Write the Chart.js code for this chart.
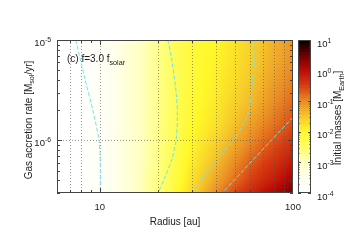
<!DOCTYPE html>
<html><head><meta charset="utf-8">
<script src="https://cdn.jsdelivr.net/npm/chart.js@4/dist/chart.umd.min.js"></script>
<style>html,body{margin:0;padding:0;background:#fff;overflow:hidden}</style>
</head><body>
<canvas id="c" width="350" height="245"></canvas>
<script>
// ---- data ----
const radii = [6, 7, 8, 10, 12, 15, 20, 25, 30, 40, 50, 60, 70, 80, 100];          // au
const rates = [3e-7, 4e-7, 6e-7, 1e-6, 1.5e-6, 2.5e-6, 4e-6, 6e-6, 1e-5];           // Msol/yr
// log10 initial mass [M_Earth]; one row per rate (low -> high), one column per radius
const logMass = [
  [-4, -4, -3.95, -3.75, -3.45, -3.1, -2.6,  -2.1,  -1.65, -1.0,  -0.55, -0.28, -0.05,  0.12,  0.45],
  [-4, -4, -3.95, -3.75, -3.45, -3.1, -2.62, -2.15, -1.75, -1.2,  -0.8,  -0.5,  -0.3,  -0.15,  0.2 ],
  [-4, -4, -3.95, -3.75, -3.45, -3.1, -2.65, -2.22, -1.88, -1.4,  -1.0,  -0.72, -0.52, -0.38, -0.1 ],
  [-4, -4, -3.95, -3.75, -3.45, -3.1, -2.68, -2.28, -1.98, -1.62, -1.28, -1.0,  -0.8,  -0.65, -0.4 ],
  [-4, -4, -3.95, -3.75, -3.45, -3.1, -2.7,  -2.32, -2.05, -1.78, -1.45, -1.2,  -1.0,  -0.85, -0.6 ],
  [-4, -4, -3.95, -3.75, -3.45, -3.1, -2.7,  -2.34, -2.1,  -1.85, -1.6,  -1.4,  -1.2,  -1.02, -0.78],
  [-4, -4, -3.95, -3.75, -3.45, -3.1, -2.7,  -2.35, -2.12, -1.9,  -1.7,  -1.5,  -1.32, -1.16, -0.92],
  [-4, -4, -3.95, -3.75, -3.45, -3.1, -2.7,  -2.35, -2.13, -1.95, -1.75, -1.56, -1.4,  -1.26, -1.02],
  [-4, -4, -3.95, -3.75, -3.45, -3.1, -2.7,  -2.35, -2.15, -2.0,  -1.8,  -1.62, -1.46, -1.32, -1.1 ]
];
// dashed boundary curves [radius, rate]
const curveA = [[7.5,1e-5],[8.4,4e-6],[9.2,2e-6],[9.9,1e-6],[10.05,6e-7],[10.05,3e-7]];
const curveB = [[22.5,1e-5],[23.6,6.3e-6],[24.9,2.85e-6],[25.2,1.7e-6],[24.8,1e-6],[23.6,6.5e-7],[21.7,4.3e-7],[20.0,3e-7]];
const curveC = [[63.6,1e-5],[63.6,7.1e-6],[62.0,4.2e-6],[59.2,2.0e-6],[55.1,1.44e-6],[48.9,1e-6],[38.5,5.8e-7],[30.3,3.05e-7]];
const curveD = [[100,1.7e-6],[77,1e-6],[43.4,3.05e-7]];
const xTickLabels = [10, 100];
const yTickExps = [-6, -5];
const cbTickExps = [-4, -3, -2, -1, 0, 1];
const xGridVals = [7, 8, 10, 20, 30, 40, 50, 60, 70, 80, 90];
const yGridVals = [1e-6];

// ---- styles ----
const FONT = '"Liberation Sans", Arial, sans-serif';
const cmap = [
  [-4.0, 255,255,255],[-3.5, 255,255,238],[-3.0, 255,255,195],[-2.6, 255,255,120],
  [-2.0, 255,248,40],[-1.5, 246,200,42],[-1.0, 233,140,36],[-0.5, 216,62,16],
  [0.0, 188,12,6],[0.5, 110,0,0],[1.0, 0,0,0]
];
function colorFor(L){
  if (L<=cmap[0][0]) return cmap[0].slice(1);
  for (let k=0;k<cmap.length-1;k++){
    const a=cmap[k], b=cmap[k+1];
    if (L<=b[0]){ const t=(L-a[0])/(b[0]-a[0]); return [a[1]+t*(b[1]-a[1]),a[2]+t*(b[2]-a[2]),a[3]+t*(b[3]-a[3])]; }
  }
  return cmap[cmap.length-1].slice(1);
}
function locate(arr, v){
  if (v<=arr[0]) return [0,0];
  const n=arr.length;
  if (v>=arr[n-1]) return [n-2,1];
  for (let k=0;k<n-1;k++) if (v<=arr[k+1]) return [k,(v-arr[k])/(arr[k+1]-arr[k])];
}
const lr = radii.map(Math.log10), lm = rates.map(Math.log10);
function fieldAt(r, m){
  const [i,tx]=locate(lr,Math.log10(r)), [j,ty]=locate(lm,Math.log10(m));
  const a=logMass[j][i], b=logMass[j][i+1], c=logMass[j+1][i], d=logMass[j+1][i+1];
  return (a*(1-tx)+b*tx)*(1-ty)+(c*(1-tx)+d*tx)*ty;
}
function drawRich(ctx, parts, x, y, align, size){
  let w=0; const sz=[];
  parts.forEach(p=>{ const s = p.s? size*0.72: size; ctx.font=s+'px '+FONT; const m=ctx.measureText(p.t).width; sz.push([s,m]); w+=m; });
  let cx = align==='center'? x-w/2 : align==='right'? x-w : x;
  ctx.textBaseline='alphabetic'; ctx.textAlign='left';
  parts.forEach((p,k)=>{ ctx.font=sz[k][0]+'px '+FONT; const dy = p.s===1? -size*0.42 : p.s===-1? size*0.28 : 0; ctx.fillText(p.t,cx,y+dy); cx+=sz[k][1]; });
}

const heatPlugin = {
  id:'heat',
  beforeDatasetsDraw(chart){
    const ctx=chart.ctx, ca=chart.chartArea, xs=chart.scales.x, ys=chart.scales.y;
    const w=Math.round(ca.right-ca.left), h=Math.round(ca.bottom-ca.top);
    const off=document.createElement('canvas'); off.width=w; off.height=h;
    const octx=off.getContext('2d'); const img=octx.createImageData(w,h);
    for (let j=0;j<h;j++){
      const m=ys.getValueForPixel(ca.top+j+0.5);
      for (let i=0;i<w;i++){
        const r=xs.getValueForPixel(ca.left+i+0.5);
        const c=colorFor(fieldAt(r,m)); const o=(j*w+i)*4;
        img.data[o]=c[0]; img.data[o+1]=c[1]; img.data[o+2]=c[2]; img.data[o+3]=255;
      }
    }
    octx.putImageData(img,0,0);
    ctx.drawImage(off, ca.left, ca.top);
    ctx.save();
    ctx.strokeStyle='rgba(85,85,85,0.6)'; ctx.lineWidth=1; ctx.setLineDash([1,2]);
    xGridVals.forEach(v=>{ const x=Math.round(xs.getPixelForValue(v))+0.5; ctx.beginPath(); ctx.moveTo(x,ca.top); ctx.lineTo(x,ca.bottom); ctx.stroke(); });
    yGridVals.forEach(v=>{ const y=Math.round(ys.getPixelForValue(v))+0.5; ctx.beginPath(); ctx.moveTo(ca.left,y); ctx.lineTo(ca.right,y); ctx.stroke(); });
    ctx.restore();
  },
  afterDraw(chart){
    const ctx=chart.ctx, ca=chart.chartArea, xs=chart.scales.x, ys=chart.scales.y, cb=chart.scales.cb;
    ctx.save();
    ctx.fillStyle='#1a1a1a'; ctx.strokeStyle='#444'; ctx.lineWidth=1; ctx.setLineDash([]);
    ctx.strokeRect(Math.round(ca.left)+0.5, Math.round(ca.top)+0.5, Math.round(ca.right-ca.left)-1, Math.round(ca.bottom-ca.top)-1);
    // x ticks
    [1,10].forEach(dec=>{ for (let k=1;k<=9;k++){ const val=k*dec; if (val<6 || val>100) continue;
      const x=Math.round(xs.getPixelForValue(val))+0.5, L=(k===1)?5:3;
      ctx.beginPath(); ctx.moveTo(x,ca.bottom); ctx.lineTo(x,ca.bottom-L); ctx.moveTo(x,ca.top); ctx.lineTo(x,ca.top+L); ctx.stroke(); } });
    // y ticks
    [-7,-6,-5].forEach(e=>{ for (let k=1;k<=9;k++){ const val=k*Math.pow(10,e); if (val<3e-7*0.999 || val>1e-5*1.001) continue;
      const y=Math.round(ys.getPixelForValue(val))+0.5, L=(k===1)?5:3;
      ctx.beginPath(); ctx.moveTo(ca.left,y); ctx.lineTo(ca.left+L,y); ctx.moveTo(ca.right,y); ctx.lineTo(ca.right-L,y); ctx.stroke(); } });
    // x tick labels
    ctx.font='9.5px '+FONT; ctx.textAlign='center'; ctx.textBaseline='middle';
    xTickLabels.forEach(v=>{ ctx.fillText(String(v), xs.getPixelForValue(v), ca.bottom+14); });
    // y tick labels
    yTickExps.forEach(e=>{ const y=ys.getPixelForValue(Math.pow(10,e));
      drawRich(ctx,[{t:'10',s:0},{t:String(e),s:1}], ca.left-6, y+5.5, 'right', 9.5); });
    // axis titles
    drawRich(ctx,[{t:'Radius [au]',s:0}], (ca.left+ca.right)/2, ca.bottom+32, 'center', 10);
    ctx.save(); ctx.translate(ca.left-29, 120); ctx.rotate(-Math.PI/2);
    drawRich(ctx,[{t:'Gas accretion rate [M',s:0},{t:'sol',s:-1},{t:'/yr]',s:0}], 0, 3.5, 'center', 10);
    ctx.restore();
    // panel label
    drawRich(ctx,[{t:'(c) f=3.0 f',s:0},{t:'solar',s:-1}], ca.left+10, ca.top+22, 'left', 10);
    // colorbar
    const bx0=Math.round(ca.right)+5, bx1=bx0+13;
    const top=Math.round(cb.getPixelForValue(10)), bot=Math.round(cb.getPixelForValue(1e-4));
    for (let y=top;y<bot;y++){ const c=colorFor(Math.log10(cb.getValueForPixel(y+0.5)));
      ctx.fillStyle='rgb('+c.map(Math.round).join(',')+')'; ctx.fillRect(bx0,y,bx1-bx0,1); }
    ctx.strokeStyle='#444'; ctx.strokeRect(bx0+0.5, top+0.5, bx1-bx0-1, bot-top-1);
    cbTickExps.forEach(e=>{ for (let k=1;k<=9;k++){ const val=k*Math.pow(10,e); if (val>10.001) continue;
      const y=Math.round(cb.getPixelForValue(val))+0.5, L=(k===1)?3:1.5;
      ctx.beginPath(); ctx.moveTo(bx0,y); ctx.lineTo(bx0+L,y); ctx.moveTo(bx1,y); ctx.lineTo(bx1-L,y); ctx.stroke(); } });
    ctx.fillStyle='#1a1a1a';
    cbTickExps.forEach(e=>{ const y=cb.getPixelForValue(Math.pow(10,e));
      drawRich(ctx,[{t:'10',s:0},{t:String(e),s:1}], bx1+6, y+6.5, 'left', 9.5); });
    ctx.save(); ctx.translate(bx1+27, 118); ctx.rotate(-Math.PI/2);
    drawRich(ctx,[{t:'Initial masses [M',s:0},{t:'Earth',s:-1},{t:']',s:0}], 0, 3, 'center', 10);
    ctx.restore();
    ctx.restore();
  }
};

const mk = (pts, tension)=>({ data: pts.map(p=>({x:p[0],y:p[1]})), showLine:true, borderColor:'#72e3ef', borderWidth:1, borderDash:[4,2], pointRadius:0, fill:false, tension });

new Chart(document.getElementById('c'), {
  type:'scatter',
  data:{ datasets:[mk(curveA,0.3), mk(curveB,0.3), mk(curveC,0.3), mk(curveD,0)] },
  options:{
    responsive:false, animation:false, devicePixelRatio:1,
    layout:{ padding:{ left:57, right:57, top:40, bottom:52 } },
    plugins:{ legend:{display:false}, tooltip:{enabled:false} },
    scales:{
      x:{ type:'logarithmic', min:6, max:100, display:false },
      y:{ type:'logarithmic', min:3e-7, max:1e-5, display:false },
      cb:{ type:'logarithmic', min:1e-4, max:10, display:false, position:'right' }
    }
  },
  plugins:[heatPlugin]
});
</script>
</body></html>
